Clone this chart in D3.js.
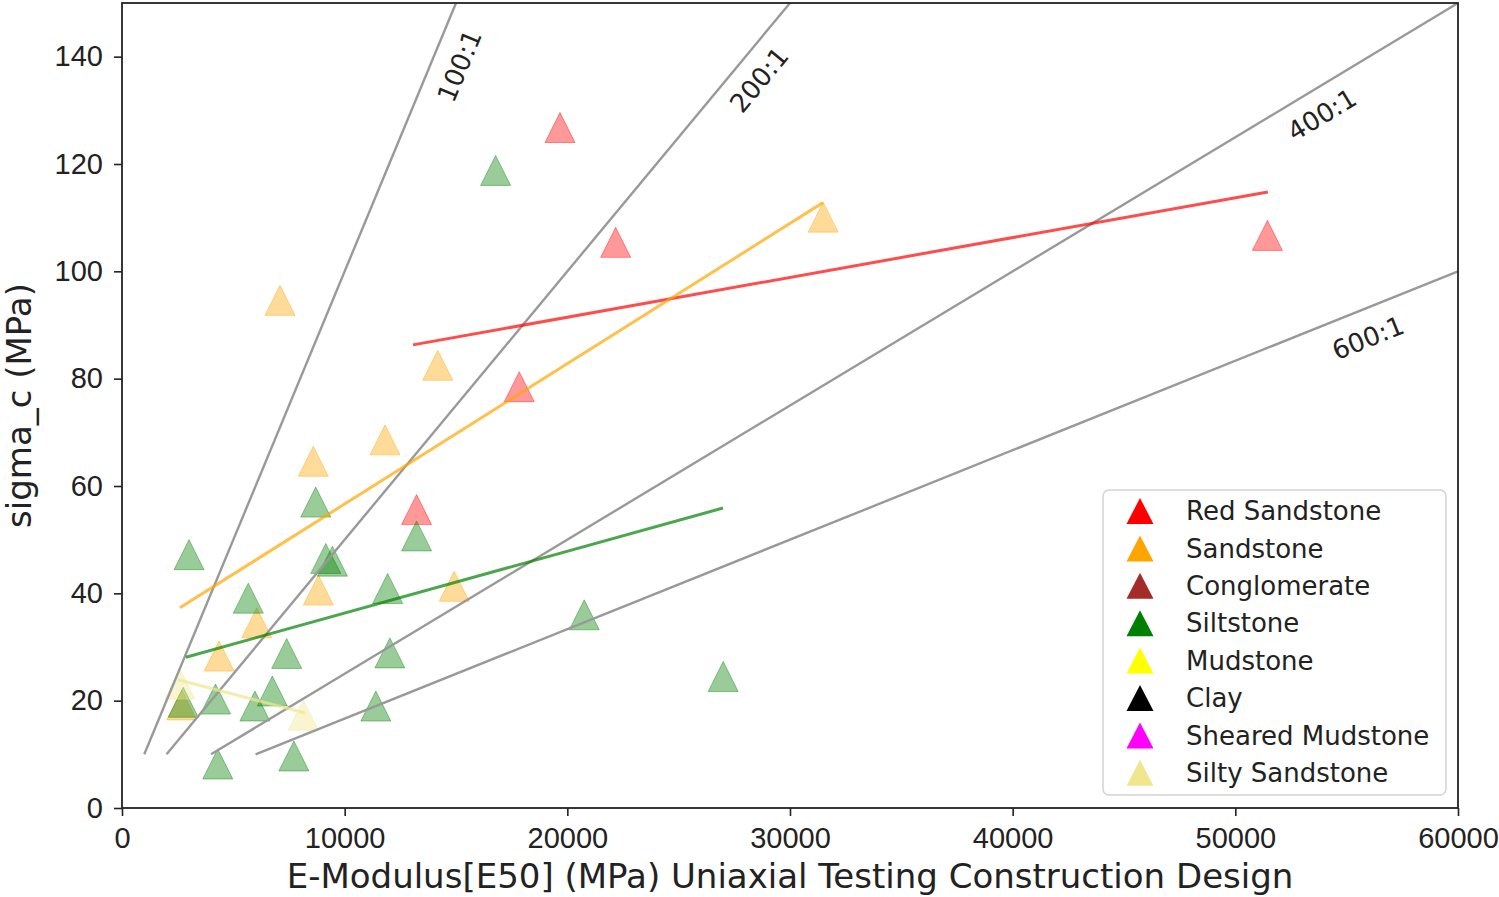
<!DOCTYPE html>
<html>
<head>
<meta charset="utf-8">
<script src="https://cdn.jsdelivr.net/npm/d3@7/dist/d3.min.js"></script>
<style>
  body { margin: 0; background: #fff; }
  svg { display: block; font-family: "DejaVu Sans", sans-serif; }
  .axis text { font-size: 29px; fill: #222; }
  .axis line { stroke: #222; stroke-width: 1.6; }
  .axis path { display: none; }
</style>
</head>
<body>
<div id="vis"></div>
<script>
// rock types shown in the legend, in legend order
var rockTypes = ['Red Sandstone', 'Sandstone', 'Conglomerate', 'Siltstone',
  'Mudstone', 'Clay', 'Sheared Mudstone', 'Silty Sandstone'];

// measured samples, E50 (MPa) and sigma_c (MPa), per rock type
var redSandstoneE = [19670, 22170, 51440, 17840, 13230];
var redSandstoneS = [126.8, 105.4, 106.7, 78.5, 55.6];

var sandstoneE = [7095, 14180, 11810, 8590, 31490, 8820, 14920, 6050, 4360, 2680];
var sandstoneS = [94.6, 82.5, 68.6, 64.6, 110.1, 40.6, 41.3, 34.5, 28.3, 19.2];

var siltstoneE = [16780, 3010, 8700, 13230, 9150, 9450, 5670, 11930, 7395, 12030,
  2750, 4200, 6750, 5970, 11400, 4300, 7720, 20760, 27000];
var siltstoneS = [118.8, 47.2, 57.0, 50.7, 46.5, 46.0, 39.1, 40.9, 28.8, 28.9,
  19.7, 20.3, 21.8, 19.0, 19.0, 8.2, 9.7, 36.0, 24.5];

var siltySandstoneE = [2600, 8140];
var siltySandstoneS = [23.1, 17.3];

// fitted trend lines, end points
var trendRock = ['Red Sandstone', 'Sandstone', 'Siltstone', 'Silty Sandstone'];
var trendE = [[13070, 51460], [2600, 31480], [2870, 26990], [2520, 8220]];
var trendS = [[86.3, 114.8], [37.3, 112.8], [28.1, 55.9], [23.9, 17.7]];

// modulus ratio guide lines (sigma_c = E / ratio)
var ratios = [100, 200, 400, 600];
var ratioStartE = [1000, 2000, 4000, 6000];
var ratioEndE = [15000, 30000, 60000, 60000];
var ratioLabels = ['100:1', '200:1', '400:1', '600:1'];
var ratioLabelE = [15160, 28610, 53890, 55960];
var ratioLabelS = [138.3, 135.7, 129.2, 87.6];

// axis ticks
var xTicks = [0, 10000, 20000, 30000, 40000, 50000, 60000];
var yTicks = [0, 20, 40, 60, 80, 100, 120, 140];

// colours follow matplotlib named colours
var rockColors = ['red', 'orange', 'brown', 'green', 'yellow', 'black', 'magenta', 'khaki'];

// constants to define the size and margins
var totalWidth = 1499;
var totalHeight = 897;
var margin = { top: 3, left: 122, bottom: 89, right: 41 };
var width = totalWidth - margin.left - margin.right;
var height = totalHeight - margin.top - margin.bottom;

var xScale = d3.scaleLinear().domain([0, 60000]).range([0, width]);
var yScale = d3.scaleLinear().domain([0, 150]).range([height, 0]);
var color = d3.scaleOrdinal().domain(rockTypes).range(rockColors);

// build the point table from the arrays above
var samples = [];
function addSamples(rock, es, ss) {
  es.forEach(function (e, i) { samples.push({ rock: rock, e: e, s: ss[i] }); });
}
addSamples('Red Sandstone', redSandstoneE, redSandstoneS);
addSamples('Sandstone', sandstoneE, sandstoneS);
addSamples('Siltstone', siltstoneE, siltstoneS);
addSamples('Silty Sandstone', siltySandstoneE, siltySandstoneS);

// triangle marker, centred on the point like matplotlib '^'
function triangle(w, h) {
  return 'M0,' + (-h / 2) + 'L' + (w / 2) + ',' + (h / 2) + 'L' + (-w / 2) + ',' + (h / 2) + 'Z';
}

var svg = d3.select('#vis').append('svg')
  .attr('width', totalWidth)
  .attr('height', totalHeight);

var g = svg.append('g')
  .attr('transform', 'translate(' + margin.left + ',' + margin.top + ')');

// scatter points
g.selectAll('.pt')
  .data(samples)
  .enter()
  .append('path')
  .attr('class', 'pt')
  .attr('d', triangle(30, 30))
  .attr('transform', function (d) { return 'translate(' + xScale(d.e) + ',' + yScale(d.s) + ')'; })
  .attr('fill', function (d) { return color(d.rock); })
  .attr('fill-opacity', 0.4)
  .attr('stroke', function (d) { return color(d.rock); })
  .attr('stroke-opacity', 0.4)
  .attr('stroke-width', 1);

// ratio guide lines
var line = d3.line()
  .x(function (d) { return xScale(d[0]); })
  .y(function (d) { return yScale(d[1]); });

ratios.forEach(function (r, i) {
  g.append('path')
    .attr('d', line([[ratioStartE[i], ratioStartE[i] / r], [ratioEndE[i], ratioEndE[i] / r]]))
    .attr('fill', 'none')
    .attr('stroke', '#999')
    .attr('stroke-width', 2.4);

  // label rotated along the line
  var angle = Math.atan2(yScale(1) - yScale(0), xScale(r) - xScale(0)) * 180 / Math.PI;
  g.append('text')
    .attr('transform', 'translate(' + xScale(ratioLabelE[i]) + ',' + yScale(ratioLabelS[i]) + ') rotate(' + angle + ')')
    .attr('text-anchor', 'middle')
    .attr('dy', '0.35em')
    .style('font-size', '26px')
    .attr('fill', '#222')
    .text(ratioLabels[i]);
});

// trend lines per rock type
trendRock.forEach(function (rock, i) {
  g.append('path')
    .attr('d', line([[trendE[i][0], trendS[i][0]], [trendE[i][1], trendS[i][1]]]))
    .attr('fill', 'none')
    .attr('stroke', color(rock))
    .attr('stroke-opacity', 0.7)
    .attr('stroke-width', 3);
});

// axes
g.append('g')
  .attr('class', 'x axis')
  .attr('transform', 'translate(0,' + height + ')')
  .call(d3.axisBottom(xScale).tickValues(xTicks).tickFormat(d3.format('d')).tickSize(8).tickPadding(11));

g.append('g')
  .attr('class', 'y axis')
  .call(d3.axisLeft(yScale).tickValues(yTicks).tickSize(8).tickPadding(11));

// frame
g.append('rect')
  .attr('width', width)
  .attr('height', height)
  .attr('fill', 'none')
  .attr('stroke', '#222')
  .attr('stroke-width', 1.8);

// axis titles
svg.append('text')
  .attr('x', margin.left + width / 2)
  .attr('y', 888)
  .attr('text-anchor', 'middle')
  .style('font-size', '34px')
  .attr('fill', '#222')
  .text('E-Modulus[E50] (MPa) Uniaxial Testing Construction Design');

svg.append('text')
  .attr('transform', 'translate(31,' + (margin.top + height / 2) + ') rotate(-90)')
  .attr('text-anchor', 'middle')
  .style('font-size', '34px')
  .attr('fill', '#222')
  .text('sigma_c (MPa)');

// legend
var legend = svg.append('g')
  .attr('transform', 'translate(1103,490)');

legend.append('rect')
  .attr('width', 343)
  .attr('height', 305)
  .attr('rx', 6)
  .attr('fill', '#fff')
  .attr('fill-opacity', 0.8)
  .attr('stroke', '#d4d4d4')
  .attr('stroke-width', 1.5);

var rows = legend.selectAll('.row')
  .data(rockTypes)
  .enter()
  .append('g')
  .attr('class', 'row')
  .attr('transform', function (d, i) { return 'translate(0,' + (21 + i * 37.4) + ')'; });

rows.append('path')
  .attr('d', triangle(27, 26))
  .attr('transform', 'translate(37,0)')
  .attr('fill', function (d) { return color(d); });

rows.append('text')
  .attr('x', 83)
  .attr('dy', '0.35em')
  .style('font-size', '26px')
  .attr('fill', '#222')
  .text(function (d) { return d; });
</script>
</body>
</html>
